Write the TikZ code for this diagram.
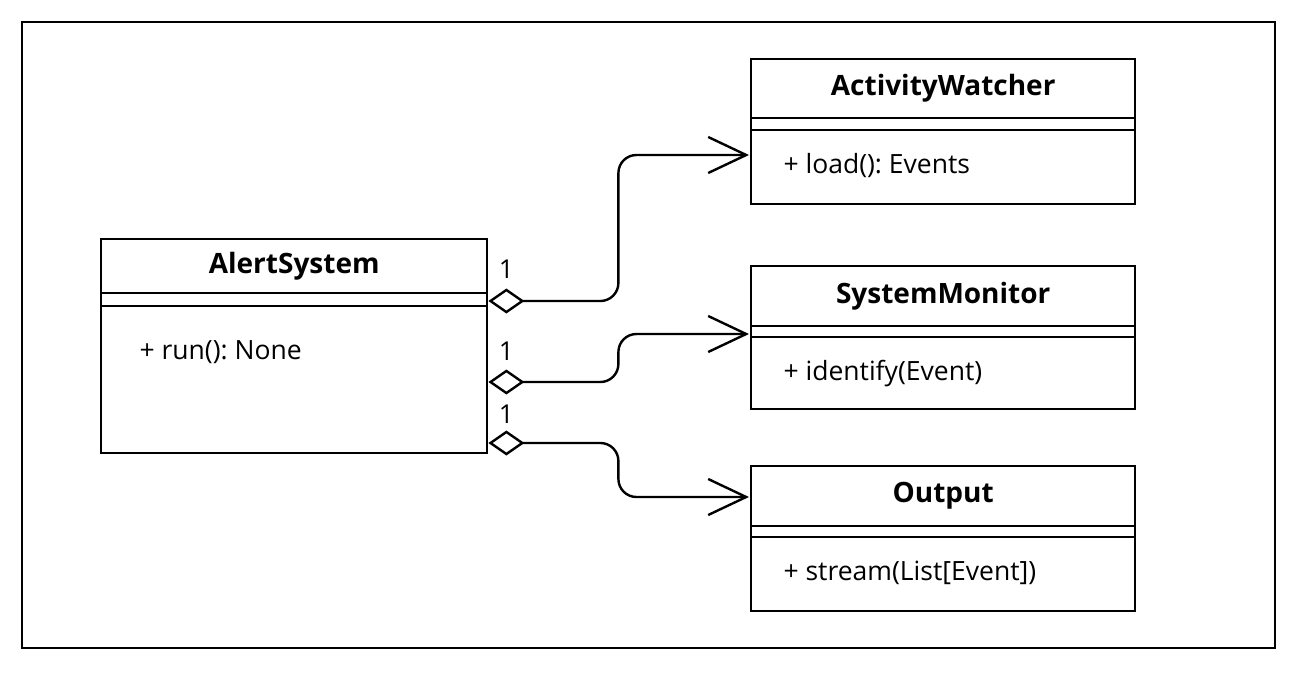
\documentclass[tikz,border=0pt]{standalone}
\usepackage{fontspec}
\setmainfont{Open Sans}
\frenchspacing
\usetikzlibrary{arrows.meta,calc}
\tikzset{
  cls/.style={draw, line width=2.4pt, anchor=north west, inner sep=0pt},
  title/.style={font=\fontsize{28}{30}\selectfont\bfseries, anchor=center},
  member/.style={font=\fontsize{26.5}{28}\selectfont, anchor=west},
  mult/.style={font=\fontsize{26}{28}\selectfont, anchor=center},
  assoc/.style={line width=2.4pt, rounded corners=18pt,
    {Diamond[open,length=36pt,width=25pt,line width=2.4pt]}-{Straight Barb[length=38pt,width=36pt,line width=2.4pt]}},
  sep/.style={line width=2.4pt}
}
\begin{document}
\begin{tikzpicture}[x=1pt,y=-1pt]
\useasboundingbox (0,0) rectangle (1298,672);
\draw[line width=1.2pt] (22,22) rectangle (1275,648);
% AlertSystem
\node[cls, minimum width=386pt, minimum height=214pt] (as) at (100,238) {};
\draw[sep] ($(as.north west)+(0,55)$) -- ($(as.north east)+(0,55)$);
\draw[sep] ($(as.north west)+(0,68)$) -- ($(as.north east)+(0,68)$);
\node[title] (ast) at ($(as.north)+(0,28)$) {AlertSystem};
\node[member] (asm) at ($(as.north west)+(36,114)$) {+ run(): None};
% ActivityWatcher
\node[cls, minimum width=384pt, minimum height=145pt] (aw) at (750,58) {};
\draw[sep] ($(aw.north west)+(0,60)$) -- ($(aw.north east)+(0,60)$);
\draw[sep] ($(aw.north west)+(0,72)$) -- ($(aw.north east)+(0,72)$);
\node[title] (awt) at ($(aw.north)+(0,30)$) {ActivityWatcher};
\node[member] (awm) at ($(aw.north west)+(30,108)$) {+ load(): Events};
% SystemMonitor
\node[cls, minimum width=384pt, minimum height=143pt] (sm) at (750,265) {};
\draw[sep] ($(sm.north west)+(0,61)$) -- ($(sm.north east)+(0,61)$);
\draw[sep] ($(sm.north west)+(0,72)$) -- ($(sm.north east)+(0,72)$);
\node[title] (smt) at ($(sm.north)+(0,31)$) {SystemMonitor};
\node[member] (smm) at ($(sm.north west)+(30,109)$) {+ identify(Event)};
% Output
\node[cls, minimum width=384pt, minimum height=145pt] (out) at (750,465) {};
\draw[sep] ($(out.north west)+(0,61)$) -- ($(out.north east)+(0,61)$);
\draw[sep] ($(out.north west)+(0,72)$) -- ($(out.north east)+(0,72)$);
\node[title] (outt) at ($(out.north)+(0,31)$) {Output};
\node[member] (outm) at ($(out.north west)+(30,108)$) {+ stream(List[Event])};
% connection points
\coordinate (s1) at ($(as.north east)+(0,63)$);
\coordinate (s2) at ($(as.north east)+(0,144)$);
\coordinate (s3) at ($(as.north east)+(0,205)$);
\coordinate (e1) at ($(aw.north west)+(-1,97)$);
\coordinate (e2) at ($(sm.north west)+(-1,69)$);
\coordinate (e3) at ($(out.north west)+(-1,32)$);
\draw[assoc] (s1) -- ++(130,0) |- (e1);
\draw[assoc] (s2) -- ++(130,0) |- (e2);
\draw[assoc] (s3) -- ++(130,0) |- (e3);
\node[mult] (m1) at ($(s1)+(18,-32)$) {1};
\node[mult] (m2) at ($(s2)+(18,-31)$) {1};
\node[mult] (m3) at ($(s3)+(18,-29)$) {1};
\end{tikzpicture}
\end{document}
